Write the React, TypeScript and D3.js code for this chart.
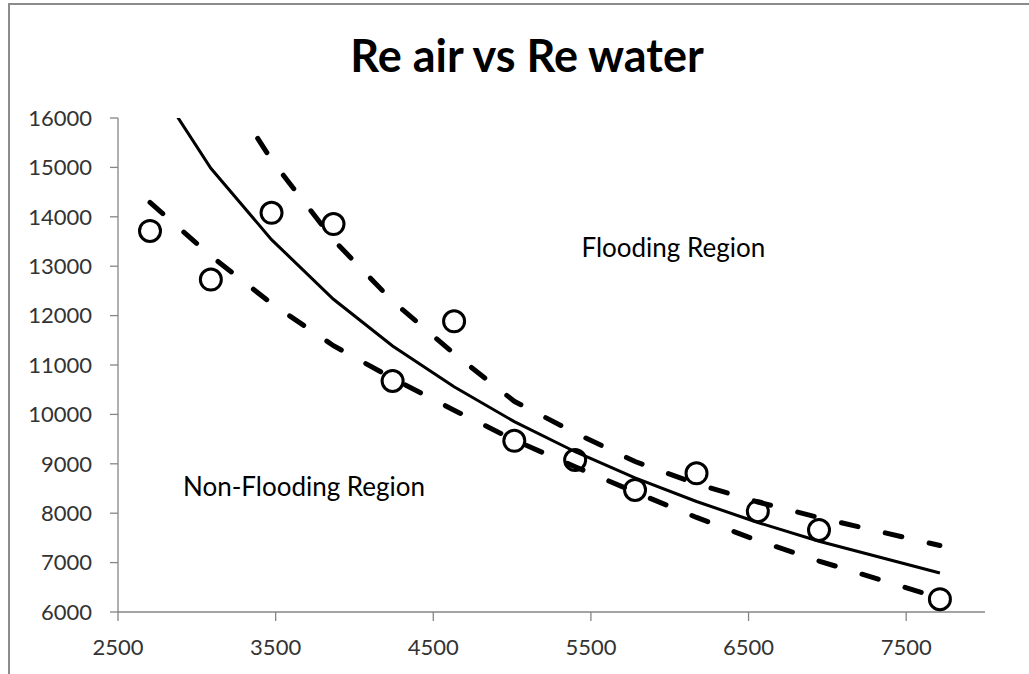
import React from "react";
import * as d3 from "d3";

// Measured points (Re water, Re air)
const reWater = [2703, 3089, 3474, 3867, 4242, 4632, 5014, 5400, 5780, 6170, 6559, 6947, 7714];
const reAir = [13713, 12730, 14080, 13854, 10676, 11884, 9465, 9077, 8470, 8808, 8040, 7660, 6260];
// Fitted curve and bounds, read at the same Re water values
const fitLine = [16880, 14982, 13538, 12331, 11386, 10560, 9854, 9244, 8716, 8237, 7812, 7432, 6790];
const upperLine = [19580, 17075, 15150, 13532, 12294, 11228, 10265, 9625, 9046, 8594, 8227, 7911, 7345];
const lowerLine = [14290, 13209, 12246, 11390, 10730, 10085, 9480, 8940, 8428, 7914, 7446, 7032, 6280];

const xTicks = [2500, 3500, 4500, 5500, 6500, 7500];
const yTicks = [6000, 7000, 8000, 9000, 10000, 11000, 12000, 13000, 14000, 15000, 16000];

const title = "Re air vs Re water";
const regionLabels = [
  { text: "Flooding Region", x: 5440, y: 13186 },
  { text: "Non-Flooding Region", x: 2912, y: 8348 },
];

const W = 1029;
const H = 674;
const FONT = "Lato, 'Open Sans', sans-serif";

export default function App() {
  const x = d3.scaleLinear().domain([2500, 8000]).range([118, 985]);
  const y = d3.scaleLinear().domain([6000, 16000]).range([612, 118]);
  const [x0, x1] = x.range();
  const [yb, yt] = y.range();

  const mk = (vals: number[]) =>
    d3
      .line<number>()
      .x((_, i) => x(reWater[i]))
      .y((v) => y(v))(vals) as string;

  const axisColor = "#868686";
  const labelColor = "#333333";

  return (
    <svg
      width={W}
      height={H}
      style={{ position: "absolute", left: 0, top: 0, background: "#fff" }}
    >
      <defs>
        <clipPath id="plot">
          <rect x={x0} y={yt} width={x1 - x0} height={yb - yt} />
        </clipPath>
      </defs>
      {/* chart frame */}
      <rect x={9} y={4} width={1100} height={800} fill="#fff" stroke="#8c8c8c" strokeWidth={2} />

      <text
        x={527}
        y={72}
        textAnchor="middle"
        fontFamily={FONT}
        fontWeight={700}
        fontSize={45}
        fill="#000"
      >
        {title}
      </text>

      {/* axes */}
      <line x1={x0} x2={x0} y1={yt} y2={yb} stroke={axisColor} strokeWidth={1.3} />
      <line x1={x0} x2={x1} y1={yb} y2={yb} stroke={axisColor} strokeWidth={1.3} />
      {yTicks.map((t) => (
        <g key={"y" + t}>
          <line x1={x0 - 8} x2={x0} y1={y(t)} y2={y(t)} stroke={axisColor} strokeWidth={1.3} />
          <text
            x={92}
            y={y(t)}
            dy="0.35em"
            textAnchor="end"
            fontFamily={FONT}
            fontSize={22}
            fill={labelColor}
          >
            {t}
          </text>
        </g>
      ))}
      {xTicks.map((t) => (
        <g key={"x" + t}>
          <line x1={x(t)} x2={x(t)} y1={yb} y2={yb + 9} stroke={axisColor} strokeWidth={1.3} />
          <text
            x={x(t)}
            y={655}
            textAnchor="middle"
            fontFamily={FONT}
            fontSize={22}
            fill={labelColor}
          >
            {t}
          </text>
        </g>
      ))}

      {/* markers */}
      {reWater.map((v, i) => (
        <circle
          key={"p" + i}
          cx={x(v)}
          cy={y(reAir[i])}
          r={10.5}
          fill="#fff"
          stroke="#000"
          strokeWidth={3}
        />
      ))}

      {/* curves */}
      <g clipPath="url(#plot)" fill="none" stroke="#000">
        <path d={mk(fitLine)} strokeWidth={3} />
        <path d={mk(upperLine)} strokeWidth={5} strokeDasharray="17 28" strokeLinecap="round" />
        <path d={mk(lowerLine)} strokeWidth={5} strokeDasharray="17 28" strokeLinecap="round" />
      </g>

      {regionLabels.map((l) => (
        <text
          key={l.text}
          x={x(l.x)}
          y={y(l.y)}
          fontFamily={FONT}
          fontSize={26}
          fill="#000"
        >
          {l.text}
        </text>
      ))}
    </svg>
  );
}
